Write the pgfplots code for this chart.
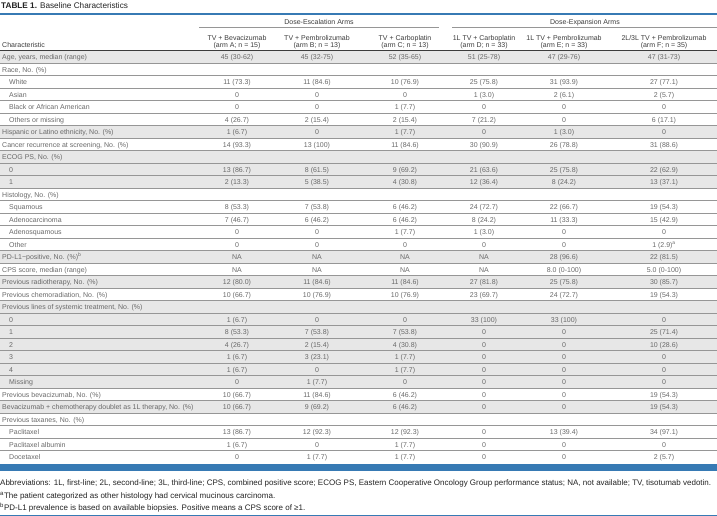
\documentclass[border=0pt]{standalone}
\usepackage{pgfplots}
\pgfplotsset{compat=1.18}
\usepackage{fontspec}
\setmainfont{Liberation Sans}
\definecolor{tblue}{RGB}{55,122,180}
\definecolor{rowgray}{RGB}{231,231,231}
\definecolor{rowline}{RGB}{150,150,150}
\definecolor{txt}{RGB}{105,105,105}
\definecolor{htxt}{RGB}{60,60,60}
\definecolor{ftxt}{RGB}{35,35,35}
\newcommand{\fs}{\fontsize{7}{8}\selectfont}
\newcommand{\ffs}{\fontsize{8}{9}\selectfont}
\newcommand{\Shade}[2]{\fill[rowgray] (0,#1) rectangle (717,#2);}
\newcommand{\Line}[1]{\draw[rowline,line width=0.6pt] (0,#1) -- (717,#1);}
\newcommand{\Row}[9]{%
  \node[anchor=mid west,font=\fs,text=txt,inner sep=0pt] at (#2,#1) {#3};
  \node[anchor=mid,font=\fs,text=txt,inner sep=0pt] at (237,#1) {#4};
  \node[anchor=mid,font=\fs,text=txt,inner sep=0pt] at (317,#1) {#5};
  \node[anchor=mid,font=\fs,text=txt,inner sep=0pt] at (405,#1) {#6};
  \node[anchor=mid,font=\fs,text=txt,inner sep=0pt] at (484,#1) {#7};
  \node[anchor=mid,font=\fs,text=txt,inner sep=0pt] at (564,#1) {#8};
  \node[anchor=mid,font=\fs,text=txt,inner sep=0pt] at (664,#1) {#9};
}
\newcommand{\Hd}[3]{\node[anchor=mid,font=\fs,text=htxt,inner sep=0pt] at (#1,#2) {#3};}
\begin{document}
\begin{tikzpicture}
\begin{axis}[
  scale only axis, width=717pt, height=516pt,
  xmin=0, xmax=717, ymin=0, ymax=516, y dir=reverse,
  hide axis, clip=false]
\addplot[draw=none] coordinates {(0,0) (717,516)};
% title
\node[anchor=mid west,inner sep=0pt,text=ftxt,font=\fontsize{8.2}{9}\selectfont] at (1,6) {\textbf{TABLE 1.} Baseline Characteristics};
\draw[tblue,line width=1.1pt] (0,14) -- (717,14);
% header
\Hd{319}{22}{Dose-Escalation Arms}
\Hd{585}{22}{Dose-Expansion Arms}
\draw[rowline,line width=0.6pt] (199,27.5) -- (439,27.5);
\draw[rowline,line width=0.6pt] (452,27.5) -- (717,27.5);
\Hd{237}{37.5}{TV + Bevacizumab}
\Hd{237}{44.5}{(arm A; n = 15)}
\Hd{317}{37.5}{TV + Pembrolizumab}
\Hd{317}{44.5}{(arm B; n = 13)}
\Hd{405}{37.5}{TV + Carboplatin}
\Hd{405}{44.5}{(arm C; n = 13)}
\Hd{484}{37.5}{1L TV + Carboplatin}
\Hd{484}{44.5}{(arm D; n = 33)}
\Hd{564}{37.5}{1L TV + Pembrolizumab}
\Hd{564}{44.5}{(arm E; n = 33)}
\Hd{664}{37.5}{2L/3L TV + Pembrolizumab}
\Hd{664}{44.5}{(arm F; n = 35)}
\node[anchor=mid west,font=\fs,text=htxt,inner sep=0pt] at (2,44.5) {Characteristic};
% shading
\Shade{50.75}{63.25}
\Shade{125.75}{138.25}
\Shade{150.75}{188.25}
\Shade{250.75}{263.25}
\Shade{275.75}{288.25}
\Shade{300.75}{388.25}
\Shade{400.75}{413.25}
% row lines
\Line{63.25}\Line{75.75}\Line{88.25}\Line{100.75}\Line{113.25}\Line{125.75}
\Line{138.25}\Line{150.75}\Line{163.25}\Line{175.75}\Line{188.25}\Line{200.75}
\Line{213.25}\Line{225.75}\Line{238.25}\Line{250.75}\Line{263.25}\Line{275.75}
\Line{288.25}\Line{300.75}\Line{313.25}\Line{325.75}\Line{338.25}\Line{350.75}
\Line{363.25}\Line{375.75}\Line{388.25}\Line{400.75}\Line{413.25}\Line{425.75}
\Line{438.25}\Line{450.75}
\draw[htxt,line width=0.8pt] (0,50.9) -- (717,50.9);
% rows
\Row{57}{2}{Age, years, median (range)}{45 (30-62)}{45 (32-75)}{52 (35-65)}{51 (25-78)}{47 (29-76)}{47 (31-73)}
\Row{69.5}{2}{Race, No. (\%)}{}{}{}{}{}{}
\Row{82}{9}{White}{11 (73.3)}{11 (84.6)}{10 (76.9)}{25 (75.8)}{31 (93.9)}{27 (77.1)}
\Row{94.5}{9}{Asian}{0}{0}{0}{1 (3.0)}{2 (6.1)}{2 (5.7)}
\Row{107}{9}{Black or African American}{0}{0}{1 (7.7)}{0}{0}{0}
\Row{119.5}{9}{Others or missing}{4 (26.7)}{2 (15.4)}{2 (15.4)}{7 (21.2)}{0}{6 (17.1)}
\Row{132}{2}{Hispanic or Latino ethnicity, No. (\%)}{1 (6.7)}{0}{1 (7.7)}{0}{1 (3.0)}{0}
\Row{144.5}{2}{Cancer recurrence at screening, No. (\%)}{14 (93.3)}{13 (100)}{11 (84.6)}{30 (90.9)}{26 (78.8)}{31 (88.6)}
\Row{157}{2}{ECOG PS, No. (\%)}{}{}{}{}{}{}
\Row{169.5}{9}{0}{13 (86.7)}{8 (61.5)}{9 (69.2)}{21 (63.6)}{25 (75.8)}{22 (62.9)}
\Row{182}{9}{1}{2 (13.3)}{5 (38.5)}{4 (30.8)}{12 (36.4)}{8 (24.2)}{13 (37.1)}
\Row{194.5}{2}{Histology, No. (\%)}{}{}{}{}{}{}
\Row{207}{9}{Squamous}{8 (53.3)}{7 (53.8)}{6 (46.2)}{24 (72.7)}{22 (66.7)}{19 (54.3)}
\Row{219.5}{9}{Adenocarcinoma}{7 (46.7)}{6 (46.2)}{6 (46.2)}{8 (24.2)}{11 (33.3)}{15 (42.9)}
\Row{232}{9}{Adenosquamous}{0}{0}{1 (7.7)}{1 (3.0)}{0}{0}
\Row{244.5}{9}{Other}{0}{0}{0}{0}{0}{1 (2.9)\textsuperscript{a}}
\Row{257}{2}{PD-L1−positive, No. (\%)\textsuperscript{b}}{NA}{NA}{NA}{NA}{28 (96.6)}{22 (81.5)}
\Row{269.5}{2}{CPS score, median (range)}{NA}{NA}{NA}{NA}{8.0 (0-100)}{5.0 (0-100)}
\Row{282}{2}{Previous radiotherapy, No. (\%)}{12 (80.0)}{11 (84.6)}{11 (84.6)}{27 (81.8)}{25 (75.8)}{30 (85.7)}
\Row{294.5}{2}{Previous chemoradiation, No. (\%)}{10 (66.7)}{10 (76.9)}{10 (76.9)}{23 (69.7)}{24 (72.7)}{19 (54.3)}
\Row{307}{2}{Previous lines of systemic treatment, No. (\%)}{}{}{}{}{}{}
\Row{319.5}{9}{0}{1 (6.7)}{0}{0}{33 (100)}{33 (100)}{0}
\Row{332}{9}{1}{8 (53.3)}{7 (53.8)}{7 (53.8)}{0}{0}{25 (71.4)}
\Row{344.5}{9}{2}{4 (26.7)}{2 (15.4)}{4 (30.8)}{0}{0}{10 (28.6)}
\Row{357}{9}{3}{1 (6.7)}{3 (23.1)}{1 (7.7)}{0}{0}{0}
\Row{369.5}{9}{4}{1 (6.7)}{0}{1 (7.7)}{0}{0}{0}
\Row{382}{9}{Missing}{0}{1 (7.7)}{0}{0}{0}{0}
\Row{394.5}{2}{Previous bevacizumab, No. (\%)}{10 (66.7)}{11 (84.6)}{6 (46.2)}{0}{0}{19 (54.3)}
\Row{407}{2}{Bevacizumab + chemotherapy doublet as 1L therapy, No. (\%)}{10 (66.7)}{9 (69.2)}{6 (46.2)}{0}{0}{19 (54.3)}
\Row{419.5}{2}{Previous taxanes, No. (\%)}{}{}{}{}{}{}
\Row{432}{9}{Paclitaxel}{13 (86.7)}{12 (92.3)}{12 (92.3)}{0}{13 (39.4)}{34 (97.1)}
\Row{444.5}{9}{Paclitaxel albumin}{1 (6.7)}{0}{1 (7.7)}{0}{0}{0}
\Row{457}{9}{Docetaxel}{0}{1 (7.7)}{1 (7.7)}{0}{0}{2 (5.7)}
% bottom band
\fill[tblue] (0,463.8) rectangle (717,471.2);
% footer
\node[anchor=mid west,inner sep=0pt,text=ftxt,font=\ffs] at (0,483) {Abbreviations: 1L, first-line; 2L, second-line; 3L, third-line; CPS, combined positive score; ECOG PS, Eastern Cooperative Oncology Group performance status; NA, not available; TV, tisotumab vedotin.};
\node[anchor=mid west,inner sep=0pt,text=ftxt,font=\ffs] at (0,495.5) {\textsuperscript{a}The patient categorized as other histology had cervical mucinous carcinoma.};
\node[anchor=mid west,inner sep=0pt,text=ftxt,font=\ffs] at (0,508) {\textsuperscript{b}PD-L1 prevalence is based on available biopsies. Positive means a CPS score of ≥1.};
\draw[tblue,line width=1.2pt] (0,515.4) -- (717,515.4);
\end{axis}
\pgfresetboundingbox
\useasboundingbox (current axis.south west) rectangle (current axis.north east);
\end{tikzpicture}
\end{document}
